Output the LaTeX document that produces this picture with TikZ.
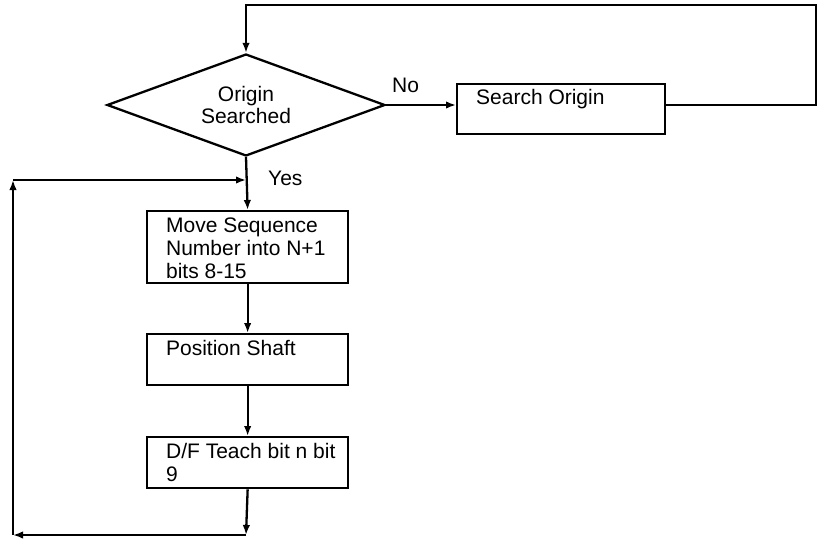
\documentclass[tikz,border=0pt]{standalone}
\usepackage{fontspec}
\setmainfont{Liberation Sans}
\usetikzlibrary{shapes.geometric,arrows.meta,calc}
\begin{document}
\begin{tikzpicture}[x=1pt,y=-1pt,
  line width=2.3pt,
  every node/.style={font=\fontsize{21}{23}\selectfont},
  box/.style={draw,rectangle,inner sep=0pt,anchor=north west},
  txt/.style={anchor=base west,inner sep=0pt},
  arr/.style={-{Latex[length=10pt,width=7.5pt]}}]
\useasboundingbox (0,0) rectangle (818,540);
% decision
\node[draw,diamond,aspect=2.7,inner sep=0pt,minimum width=278pt,minimum height=102pt,align=center] (d) at (246,105) {Origin\\[-1pt]Searched};
% boxes
\node[box,minimum width=208pt,minimum height=50pt] (so) at (456,83) {};
\node[txt] (sot) at ($(so.north west)+(19,22)$) {Search Origin};
\node[box,minimum width=201pt,minimum height=72pt] (b1) at (146,210) {};
\node[txt] (b1t) at ($(b1.north west)+(19,22)$) {Move Sequence};
\node[txt] (b1t2) at ($(b1.north west)+(19,45)$) {Number into N+1};
\node[txt] (b1t3) at ($(b1.north west)+(19,68)$) {bits 8-15};
\node[box,minimum width=201pt,minimum height=51pt] (b2) at (146,333) {};
\node[txt] (b2t) at ($(b2.north west)+(19,22)$) {Position Shaft};
\node[box,minimum width=201pt,minimum height=51pt] (b3) at (146,436) {};
\node[txt] (b3t) at ($(b3.north west)+(19,22)$) {D/F Teach bit n bit};
\node[txt] (b3t2) at ($(b3.north west)+(19,45)$) {9};
% labels
\node[txt] (no) at (391,93) {No};
\node[txt] (yes) at (267,185) {Yes};
% coordinates
\coordinate (tr) at (816,5);
\coordinate (tl) at (13,180);
\coordinate (j) at (246,180);
\coordinate (jb) at (246,535);
\coordinate (bl) at (13,535);
% connectors
\draw[arr] (d.east) -- (d.east -| so.west);
\draw[arr] (d.east -| so.east) -- (d.east -| tr) -- (tr) -- (tr -| d.north) -- (d.north);
\draw[arr] (d.south) -- (b1.north);
\draw[arr] (b1.south) -- (b2.north);
\draw[arr] (b2.south) -- (b3.north);
\draw[arr] (b3.south) -- (jb);
\draw[arr] (jb) -- (bl);
\draw[arr] (bl) -- (tl);
\draw[arr] (tl) -- (j);
\end{tikzpicture}
\end{document}
